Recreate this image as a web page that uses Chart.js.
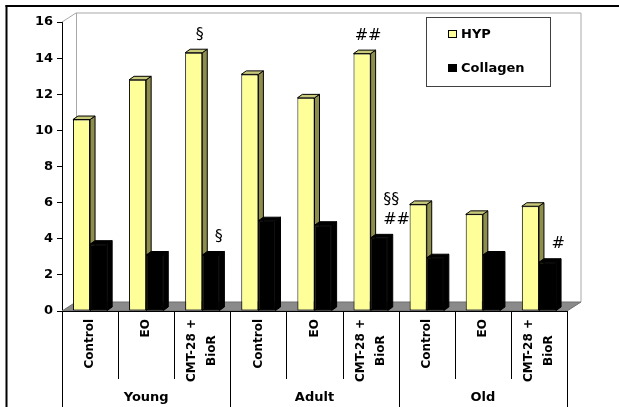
<!DOCTYPE html>
<html>
<head>
<meta charset="utf-8">
<script src="https://cdn.jsdelivr.net/npm/chart.js@4.4.1/dist/chart.umd.min.js"></script>
<style>
  html, body { margin: 0; padding: 0; background: #fff; }
  canvas { display: block; }
</style>
</head>
<body>
<canvas id="mycanvas" width="619" height="407"></canvas>
<script>
// chart data
const groups = ['Young', 'Adult', 'Old'];
const treatments = [['Control'], ['EO'], ['CMT-28 +', 'BioR']];
const seriesNames = ['HYP', 'Collagen'];
const hypValues = [10.6, 12.8, 14.3, 13.1, 11.8, 14.25, 5.9, 5.35, 5.8];
const collagenValues = [3.7, 3.1, 3.1, 5.0, 4.75, 4.05, 2.95, 3.1, 2.7];
const yMin = 0;
const yMax = 16;
const yStep = 2;

// significance marks: text, category index, series index
const markTexts = ['§', '##', '§', '§§\n##', '#'];
const markCategory = [2, 5, 2, 5, 8];
const markSeries = [0, 0, 1, 1, 1];

// one category per group/treatment pair
const labels = [];
groups.forEach((g) => treatments.forEach((t) => labels.push(t)));

const FONT = 'DejaVu Sans';
const yellow = '#FFFF99';
const barDX = 5, barDY = 3.5; // bar depth
const wallDX = 14, wallDY = 9; // floor/wall depth

const poly = (ctx, pts, fill, stroke) => {
	ctx.beginPath();
	ctx.moveTo(pts[0][0], pts[0][1]);
	pts.slice(1).forEach((p) => ctx.lineTo(p[0], p[1]));
	ctx.closePath();
	if (fill) {
		ctx.fillStyle = fill;
		ctx.fill();
	}
	if (stroke) {
		ctx.strokeStyle = stroke;
		ctx.stroke();
	}
};

// side + top faces of one dataset's bars
const drawFaces = (ctx, meta, side, top) => {
	meta.data.forEach((bar) => {
		const p = bar.getProps(['x', 'y', 'base', 'width'], true);
		const l = p.x - p.width / 2;
		const r = p.x + p.width / 2;
		poly(ctx, [[r, p.y], [r + barDX, p.y - barDY], [r + barDX, p.base - barDY], [r, p.base]], side, '#000');
		poly(ctx, [[l, p.y], [l + barDX, p.y - barDY], [r + barDX, p.y - barDY], [r, p.y]], top, '#000');
	});
};

// fake excel 3d look + the parts chart.js has no option for
const excel3d = {
	id: 'excel3d',
	beforeDatasetsDraw(chart) {
		const ctx = chart.ctx;
		const { left: L, right: R, top: T, bottom: B } = chart.chartArea;
		ctx.save();
		ctx.lineWidth = 1;
		// floor
		poly(ctx, [[L, B], [L + wallDX, B - wallDY], [R + wallDX, B - wallDY], [R, B]], '#8a8a8a', '#6e6e6e');
		// back wall edges
		ctx.strokeStyle = '#a8a8a8';
		ctx.beginPath();
		ctx.moveTo(L, T);
		ctx.lineTo(L + wallDX, T - wallDY);
		ctx.lineTo(R + wallDX, T - wallDY);
		ctx.lineTo(R + wallDX, B - wallDY);
		ctx.moveTo(L + wallDX + 0.5, T - wallDY);
		ctx.lineTo(L + wallDX + 0.5, B - wallDY);
		ctx.stroke();
		ctx.restore();
	},
	afterDatasetsDraw(chart) {
		const ctx = chart.ctx;
		const hyp = chart.getDatasetMeta(0);
		const col = chart.getDatasetMeta(1);
		ctx.save();
		ctx.lineWidth = 1;
		ctx.lineJoin = 'round';
		drawFaces(ctx, hyp, '#8e8e4c', '#c9c97a');
		// collagen bars sit in front of the yellow side faces
		col.data.forEach((bar) => bar.draw(ctx, chart.chartArea));
		drawFaces(ctx, col, '#000', '#000');
		ctx.restore();
	},
	afterDraw(chart) {
		const ctx = chart.ctx;
		const xs = chart.scales.x;
		const { left: L, right: R, bottom: B } = chart.chartArea;
		const H = chart.height;
		ctx.save();

		// outer frame (left + top)
		ctx.fillStyle = '#000';
		ctx.fillRect(5.5, 5, 2, H - 5);
		ctx.fillRect(5.5, 5, chart.width - 5.5, 2);

		// x axis line
		ctx.strokeStyle = '#000';
		ctx.lineWidth = 1;
		ctx.beginPath();
		ctx.moveTo(L, B + 0.5);
		ctx.lineTo(R, B + 0.5);
		ctx.stroke();

		// category / group separators
		const half = (xs.getPixelForValue(1) - xs.getPixelForValue(0)) / 2;
		ctx.beginPath();
		for (let k = 0; k <= labels.length; k++) {
			const x = Math.round(xs.getPixelForValue(0) - half + k * 2 * half) + 0.5;
			ctx.moveTo(x, B);
			ctx.lineTo(x, k % treatments.length === 0 ? H : B + 68);
		}
		ctx.stroke();

		// rotated category labels
		ctx.fillStyle = '#000';
		ctx.font = 'bold 12px "' + FONT + '"';
		ctx.textAlign = 'center';
		ctx.textBaseline = 'middle';
		labels.forEach((lines, i) => {
			const maxW = Math.max(...lines.map((s) => ctx.measureText(s).width));
			ctx.save();
			ctx.translate(xs.getPixelForValue(i), B + 8);
			ctx.rotate(-Math.PI / 2);
			lines.forEach((s, j) => {
				ctx.fillText(s, -maxW / 2, (j - (lines.length - 1) / 2) * 20);
			});
			ctx.restore();
		});

		// group labels
		ctx.font = 'bold 13px "' + FONT + '"';
		groups.forEach((g, gi) => {
			const a = xs.getPixelForValue(gi * treatments.length);
			const b = xs.getPixelForValue(gi * treatments.length + treatments.length - 1);
			ctx.fillText(g, (a + b) / 2, H - 9);
		});

		// legend box
		const lx = R - 141, ly = 17;
		ctx.strokeStyle = '#404040';
		ctx.strokeRect(lx + 0.5, ly + 0.5, 124, 69);
		ctx.textAlign = 'left';
		ctx.font = 'bold 13px "' + FONT + '"';
		[yellow, '#000'].forEach((c, si) => {
			const my = ly + 13 + si * 34;
			ctx.fillStyle = c;
			ctx.fillRect(lx + 22, my, 9, 8);
			ctx.strokeStyle = '#000';
			ctx.strokeRect(lx + 22.5, my + 0.5, 8, 7);
			ctx.fillStyle = '#000';
			ctx.fillText(seriesNames[si], lx + 35, my + 4.5);
		});

		// significance marks
		ctx.font = '16px "' + FONT + '"';
		markTexts.forEach((txt, m) => {
			const bar = chart.getDatasetMeta(markSeries[m]).data[markCategory[m]];
			const lines = txt.split('\n');
			if (markSeries[m] === 0) {
				ctx.textAlign = 'center';
				ctx.fillText(txt, bar.x + 6, bar.y - 18);
			} else {
				ctx.textAlign = 'left';
				lines.forEach((s, j) => {
					ctx.fillText(s, bar.x + 4, bar.y - 18 - (lines.length - 1 - j) * 20);
				});
			}
		});
		ctx.restore();
	},
};

new Chart(document.getElementById('mycanvas'), {
	type: 'bar',
	data: {
		labels: labels,
		datasets: [
			{
				label: seriesNames[0],
				data: hypValues,
				backgroundColor: yellow,
				borderColor: '#000',
				borderWidth: 1,
				borderSkipped: false,
			},
			{
				label: seriesNames[1],
				data: collagenValues,
				backgroundColor: '#000',
				borderColor: '#000',
				borderWidth: 1,
				borderSkipped: false,
			},
		],
	},
	options: {
		responsive: false,
		animation: false,
		datasets: {
			bar: { barPercentage: 1, categoryPercentage: 0.61 },
		},
		layout: { padding: { left: 0, right: 52, top: 22, bottom: 0 } },
		plugins: {
			legend: { display: false },
			tooltip: { enabled: false },
		},
		scales: {
			x: {
				grid: { display: false, drawTicks: false },
				border: { display: false },
				ticks: { display: false },
				afterFit: (scale) => { scale.height = 96; },
			},
			y: {
				min: yMin,
				max: yMax,
				grid: { drawOnChartArea: false, tickLength: 5, color: '#000' },
				border: { display: true, color: '#000', width: 1 },
				ticks: {
					stepSize: yStep,
					padding: 4,
					color: '#000',
					font: { family: FONT, size: 13, weight: 'bold' },
				},
				afterFit: (scale) => { scale.width = 62; },
			},
		},
	},
	plugins: [excel3d],
});
</script>
</body>
</html>
